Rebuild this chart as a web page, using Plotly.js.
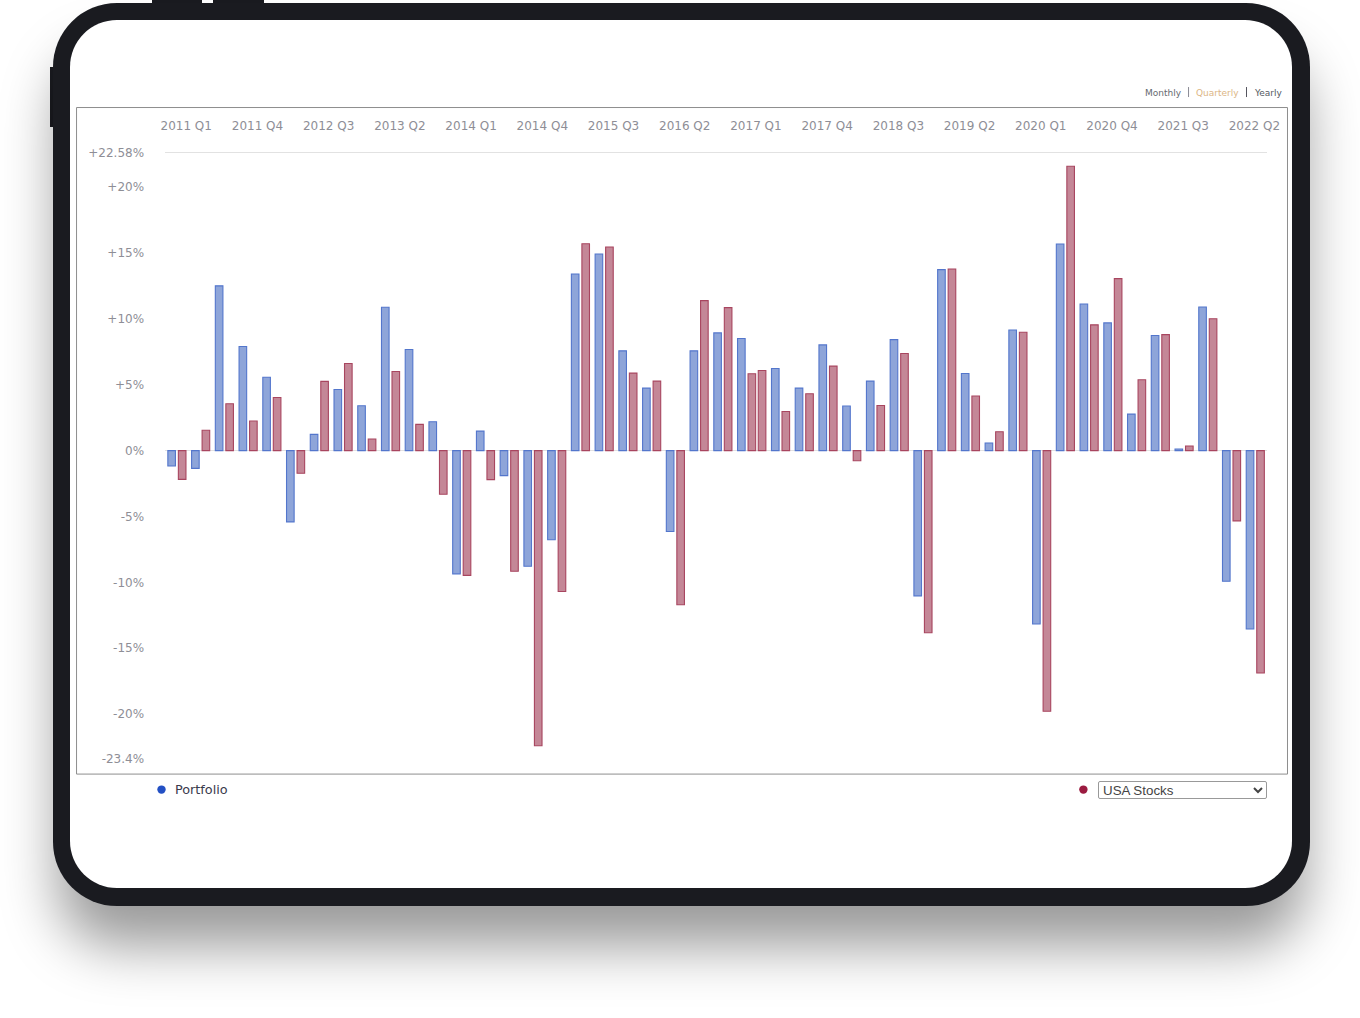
<!DOCTYPE html>
<html>
<head>
<meta charset="utf-8">
<script src="https://cdn.plot.ly/plotly-3.0.1.min.js"></script>
<style>
html,body{margin:0;padding:0;background:#fff;width:1360px;height:1018px;overflow:hidden}
#frame{position:absolute;left:53px;top:3px;width:1257px;height:903px;border-radius:64px;background:#1a1b20;box-shadow:0 45px 55px -5px rgba(0,0,0,.4)}
.btn{position:absolute;background:#1a1b20}
#screen{position:absolute;left:70px;top:20px;width:1222px;height:868px;border-radius:47px;background:#fff}
#chart{position:absolute;left:0;top:0;width:1360px;height:1018px}
#pick{position:absolute;left:1098px;top:780.5px;width:169px;height:18px;box-sizing:border-box;font:13.33px "Liberation Sans",Arial,sans-serif;color:#444;background:#fff;border:1px solid #999;border-radius:2px;padding:0;z-index:5}
</style>
</head>
<body>
<div class="btn" style="left:152px;top:0;width:50px;height:6px"></div>
<div class="btn" style="left:213px;top:0;width:51px;height:6px"></div>
<div class="btn" style="left:50px;top:67px;width:6px;height:60px"></div>
<div id="frame"></div>
<div id="screen"></div>
<div id="chart"></div>
<select id="pick"><option>USA Stocks</option></select>
<script>
const quarters = ["2011 Q1","2011 Q2","2011 Q3","2011 Q4","2012 Q1","2012 Q2","2012 Q3","2012 Q4","2013 Q1","2013 Q2","2013 Q3","2013 Q4","2014 Q1","2014 Q2","2014 Q3","2014 Q4","2015 Q1","2015 Q2","2015 Q3","2015 Q4","2016 Q1","2016 Q2","2016 Q3","2016 Q4","2017 Q1","2017 Q2","2017 Q3","2017 Q4","2018 Q1","2018 Q2","2018 Q3","2018 Q4","2019 Q1","2019 Q2","2019 Q3","2019 Q4","2020 Q1","2020 Q2","2020 Q3","2020 Q4","2021 Q1","2021 Q2","2021 Q3","2021 Q4","2022 Q1","2022 Q2"];
const portfolio = [-1.17,-1.35,12.5,7.9,5.57,-5.41,1.23,4.64,3.4,10.88,7.67,2.19,-9.35,1.48,-1.9,-8.77,-6.77,13.4,14.92,7.57,4.74,-6.14,7.57,8.93,8.5,6.23,4.74,8.02,3.38,5.27,8.42,-11.02,13.73,5.85,0.58,9.15,-13.16,15.67,11.12,9.69,2.77,8.73,0.12,10.9,-9.91,-13.54];
const usaStocks = [-2.18,1.54,3.55,2.24,4.03,-1.72,5.25,6.61,0.88,6.0,1.99,-3.31,-9.47,-2.2,-9.15,-22.4,-10.69,15.7,15.45,5.88,5.27,-11.7,11.38,10.85,5.83,2.97,4.31,6.41,-0.77,3.42,7.37,-13.82,13.78,4.14,1.43,8.98,-19.78,21.58,9.54,13.05,5.37,8.8,0.35,10.0,-5.33,-16.87];
const strayUsaValue = 6.08;
const yTicks = [22.58,20,15,10,5,0,-5,-10,-15,-20,-23.4];
const yLabels = ["+22.58%","+20%","+15%","+10%","+5%","0%","-5%","-10%","-15%","-20%","-23.4%"];
const xLabels = ["2011 Q1","2011 Q4","2012 Q3","2013 Q2","2014 Q1","2014 Q4","2015 Q3","2016 Q2","2017 Q1","2017 Q4","2018 Q3","2019 Q2","2020 Q1","2020 Q4","2021 Q3","2022 Q2"];

const L=164.5,R=1267,T=153,B=759.4,W=1360,H=1018;
const px=x=>(x-L)/(R-L), py=y=>1-(y-T)/(B-T);
const breakAt=25, gap=0.43;
const pos=quarters.map((q,i)=>i+(i>=breakAt?gap:0));
const blueFill='rgba(30,75,180,0.5)', blueLine='#5376cc', redFill='rgba(137,15,48,0.5)', redLine='#a8455f';
const barW=0.32, blueOff=-0.385, redOff=0.058;
const trBlue={type:'bar',name:'Portfolio',x:pos,y:portfolio,width:barW,offset:blueOff,marker:{color:blueFill,line:{color:blueLine,width:1.1}},hoverinfo:'skip'};
const trRed={type:'bar',name:'USA Stocks',x:pos,y:usaStocks,width:barW,offset:redOff,marker:{color:redFill,line:{color:redLine,width:1.1}},hoverinfo:'skip'};
const trStray={type:'bar',name:'USA Stocks',showlegend:false,x:[breakAt-1+gap],y:[strayUsaValue],width:barW,offset:redOff,marker:{color:redFill,line:{color:redLine,width:1.1}},hoverinfo:'skip'};

const tickFont={family:'"DejaVu Sans",Verdana,sans-serif',size:12,color:'#8e8e96'};
const note=(text,x,y,size,color,anchor)=>({text,xref:'paper',yref:'paper',x:px(x),y:py(y),xanchor:anchor||'left',yanchor:'middle',showarrow:false,
  font:{family:'"DejaVu Sans",Verdana,sans-serif',size,color}});
const dot=(cx,cy,r,color)=>({type:'circle',xref:'paper',yref:'paper',x0:px(cx-r),x1:px(cx+r),y0:py(cy+r),y1:py(cy-r),fillcolor:color,line:{width:0},layer:'above'});

const layout={
  width:W,height:H,autosize:false,showlegend:false,barmode:'overlay',
  paper_bgcolor:'rgba(0,0,0,0)',plot_bgcolor:'rgba(0,0,0,0)',
  margin:{l:L,r:W-R,t:T,b:H-B,pad:0},
  xaxis:{type:'linear',range:[-0.505,45.92],side:'top',tickmode:'array',
    tickvals:xLabels.map((q,i)=>i*3+gap-0.04),ticktext:xLabels,tickfont:tickFont,ticks:'outside',ticklen:17,tickwidth:1,tickcolor:'rgba(0,0,0,0)',
    showgrid:false,zeroline:false,showline:true,linecolor:'#e2e2e2',linewidth:1.4,fixedrange:true},
  yaxis:{range:[-23.4,22.58],tickmode:'array',tickvals:yTicks,ticktext:yLabels,tickfont:tickFont,ticks:'outside',ticklen:17.5,tickwidth:1,tickcolor:'rgba(0,0,0,0)',
    showgrid:false,zeroline:true,zerolinecolor:'#e2e2e2',zerolinewidth:1.4,showline:false,fixedrange:true},
  shapes:[
    {type:'rect',xref:'paper',yref:'paper',x0:px(76),x1:px(1287.5),y0:py(774.5),y1:py(107.5),line:{color:'#8e8e8e',width:1},fillcolor:'rgba(0,0,0,0)',layer:'below'},
    {type:'line',xref:'paper',yref:'paper',x0:px(1188.5),x1:px(1188.5),y0:py(97),y1:py(87),line:{color:'#8a8a94',width:1}},
    {type:'line',xref:'paper',yref:'paper',x0:px(1246.5),x1:px(1246.5),y0:py(97),y1:py(87),line:{color:'#55555f',width:1}},
    dot(161,790,4.2,'#2350c4'),
    dot(1083.3,790,4.2,'#9b1b40')
  ],
  annotations:[
    note('Monthly',1143,92.5,9,'#666a70'),
    note('Quarterly',1194,92.5,9,'#dcb685'),
    note('Yearly',1251.5,92.5,9,'#555a62'),
    note('Portfolio',173,790,12.8,'#3a3a4c')
  ]
};
Plotly.newPlot('chart',[trBlue,trRed,trStray],layout,{displayModeBar:false,staticPlot:true});
</script>
</body>
</html>
